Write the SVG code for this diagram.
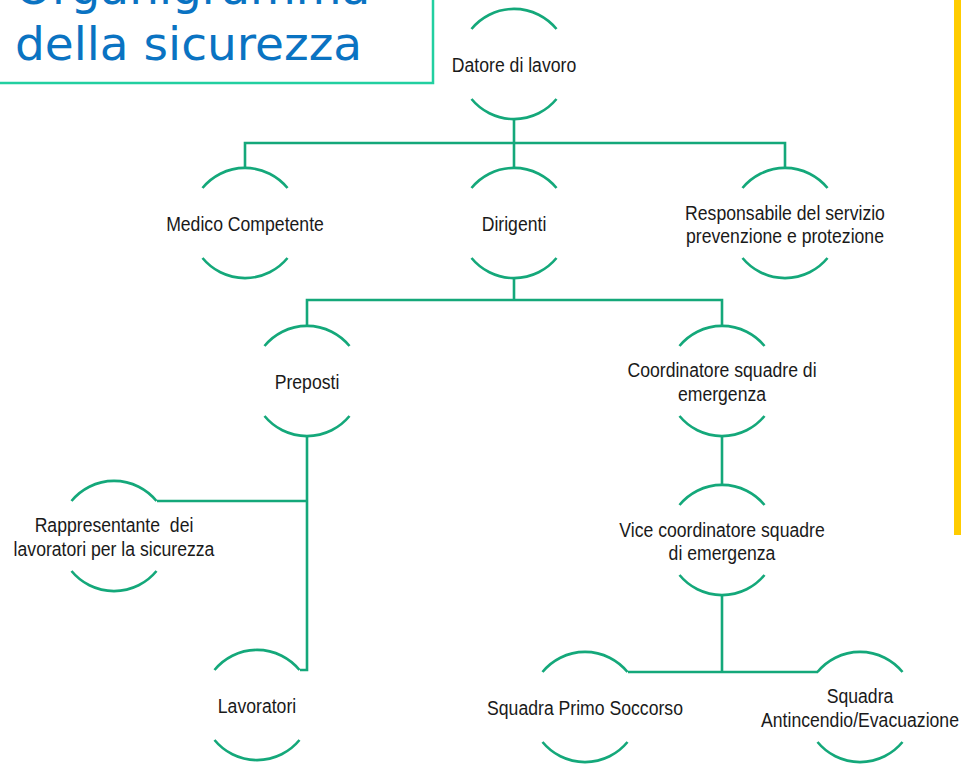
<svg xmlns="http://www.w3.org/2000/svg" width="961" height="764" viewBox="0 0 961 764">
<style>
.arc{fill:none;stroke:#14A87A;stroke-width:2.6}
.con{fill:none;stroke:#14A87A;stroke-width:2.6}
.lbl{font-family:"Liberation Sans",Arial,sans-serif;font-size:21px;fill:#1a1a1a;text-anchor:middle}
.title{font-family:"DejaVu Sans",Verdana,sans-serif;font-size:47px;fill:#0A73C2}
</style>
<defs>
<path id="arcs" class="arc" d="M-42.5 -35 A55 55 0 0 1 42.5 -35 M-42.5 35 A55 55 0 0 0 42.5 35"/>
</defs>
<rect width="961" height="764" fill="#ffffff"/>
<g id="title">
<rect x="-10" y="-10" width="443" height="93" fill="none" stroke="#22CFA0" stroke-width="2.5"/>
<text class="title" x="15" y="4">Organigramma</text>
<text class="title" x="15" y="60">della sicurezza</text>
</g>
<rect id="bar" x="954" y="0" width="7" height="535" fill="#FFCC00"/>
<g id="connectors">
<path class="con" d="M514 119V143M245 167V143H785V168M514 143V168"/>
<path class="con" d="M514 278V300M307 326V300H722V326"/>
<path class="con" d="M307 436V670H300M307 501H157"/>
<path class="con" d="M722 436V484"/>
<path class="con" d="M722 595V672M628 672H818"/>
</g>
<g id="datore" transform="translate(514,64)"><use href="#arcs"/><g transform="scale(0.84,1)"><text class="lbl" y="8">Datore di lavoro</text></g></g>
<g id="medico" transform="translate(245,223)"><use href="#arcs"/><g transform="scale(0.84,1)"><text class="lbl" y="8">Medico Competente</text></g></g>
<g id="dirigenti" transform="translate(514,223)"><use href="#arcs"/><g transform="scale(0.84,1)"><text class="lbl" y="8">Dirigenti</text></g></g>
<g id="rspp" transform="translate(785,223)"><use href="#arcs"/><g transform="scale(0.84,1)"><text class="lbl" y="-3">Responsabile del servizio</text><text class="lbl" y="20">prevenzione e protezione</text></g></g>
<g id="preposti" transform="translate(307,381)"><use href="#arcs"/><g transform="scale(0.84,1)"><text class="lbl" y="8">Preposti</text></g></g>
<g id="coordinatore" transform="translate(722,381)"><use href="#arcs"/><g transform="scale(0.84,1)"><text class="lbl" y="-4">Coordinatore squadre di</text><text class="lbl" y="20">emergenza</text></g></g>
<g id="rls" transform="translate(114,536)"><use href="#arcs"/><g transform="scale(0.84,1)"><text class="lbl" y="-4" xml:space="preserve">Rappresentante  dei</text><text class="lbl" y="20">lavoratori per la sicurezza</text></g></g>
<g id="vice" transform="translate(722,540)"><use href="#arcs"/><g transform="scale(0.84,1)"><text class="lbl" y="-3">Vice coordinatore squadre</text><text class="lbl" y="20">di emergenza</text></g></g>
<g id="lavoratori" transform="translate(257,705)"><use href="#arcs"/><g transform="scale(0.84,1)"><text class="lbl" y="8">Lavoratori</text></g></g>
<g id="primosoccorso" transform="translate(585,707)"><use href="#arcs"/><g transform="scale(0.84,1)"><text class="lbl" y="8">Squadra Primo Soccorso</text></g></g>
<g id="antincendio" transform="translate(860,707)"><use href="#arcs"/><g transform="scale(0.84,1)"><text class="lbl" y="-4">Squadra</text><text class="lbl" y="20">Antincendio/Evacuazione</text></g></g>
</svg>
